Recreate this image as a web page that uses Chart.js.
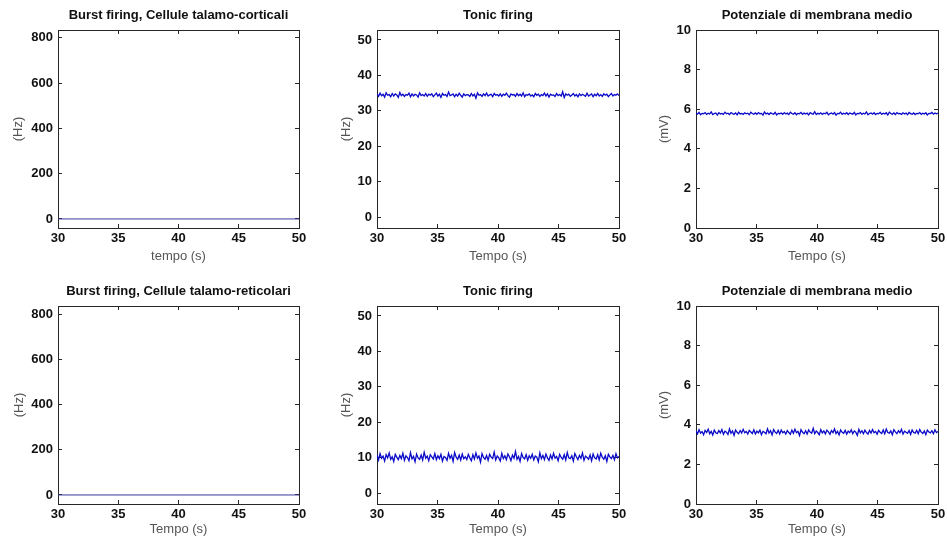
<!DOCTYPE html>
<html lang="it">
<head>
  <meta charset="UTF-8" />
  <title>Burst / Tonic firing</title>
  <script src="https://cdn.jsdelivr.net/npm/chart.js"></script>
  <style>
    html, body { margin: 0; padding: 0; background: #fff; width: 947px; height: 540px; overflow: hidden; }
    canvas { position: absolute; }
  </style>
</head>
<body>
<canvas id="p1"></canvas>
<canvas id="p2"></canvas>
<canvas id="p3"></canvas>
<canvas id="p4"></canvas>
<canvas id="p5"></canvas>
<canvas id="p6"></canvas>
<script>
  // time axis
  const tStart = 30;
  const tEnd = 50;
  const xTicks = [30, 35, 40, 45, 50];

  // tick labels for the y axes
  const burstTicks = [0, 200, 400, 600, 800];
  const tonicTicks = [0, 10, 20, 30, 40, 50];
  const membraneTicks = [0, 2, 4, 6, 8, 10];

  // burst firing: flat at zero for both populations
  const burstTime = [30, 50];
  const burstTC = [0, 0];
  const burstTR = [0, 0];

  // tonic firing, cellule talamo-corticali (Hz)
  const tonicTC = [
    34.8,34.1,35.0,34.3,34.7,33.9,35.1,34.4,34.6,34.0,34.9,34.2,34.8,34.5,33.8,35.2,34.3,34.7,34.1,34.6,
    34.4,35.0,34.0,34.8,34.2,34.7,34.5,33.9,35.1,34.3,34.6,34.2,34.9,34.1,34.7,34.4,34.8,34.0,34.5,35.0,
    34.2,34.7,33.8,34.9,34.4,34.6,34.1,35.3,34.3,34.5,34.8,34.0,34.7,34.2,35.0,34.4,33.9,34.8,34.3,34.6,
    34.5,34.1,34.9,34.2,34.7,33.6,35.1,34.4,34.6,34.1,34.8,34.3,35.0,34.2,34.5,34.7,34.0,34.9,34.4,34.6,
    34.2,34.8,34.1,34.7,34.4,35.0,34.3,33.9,34.8,34.5,34.6,34.1,34.9,34.3,34.7,34.2,35.1,34.0,34.6,34.4,
    34.8,34.2,34.5,34.0,34.9,34.4,34.7,34.1,34.6,34.3,35.0,34.2,34.8,33.9,34.7,34.4,34.5,34.1,34.9,34.3,
    34.6,34.2,35.4,33.8,34.8,34.4,34.7,34.1,34.5,34.9,34.2,34.6,34.0,34.8,34.3,34.7,34.4,34.1,35.0,34.2,
    34.5,34.8,34.0,34.7,34.3,34.9,34.2,34.6,34.1,34.8,34.4,34.7,34.0,34.5,34.9,34.2,34.6,34.4,34.8,34.3
  ];

  // potenziale di membrana medio, talamo-corticali (mV)
  const membraneTC = [
    5.81,5.75,5.84,5.72,5.79,5.77,5.83,5.74,5.80,5.76,5.86,5.73,5.78,5.81,5.70,5.82,5.76,5.79,5.74,5.85,
    5.77,5.80,5.73,5.83,5.78,5.75,5.81,5.71,5.84,5.76,5.79,5.74,5.82,5.77,5.80,5.72,5.85,5.78,5.75,5.81,
    5.74,5.83,5.77,5.79,5.70,5.86,5.76,5.80,5.73,5.82,5.78,5.75,5.84,5.71,5.79,5.77,5.81,5.74,5.83,5.76,
    5.80,5.73,5.85,5.78,5.75,5.82,5.72,5.79,5.77,5.84,5.74,5.81,5.76,5.80,5.71,5.83,5.78,5.75,5.87,5.73,
    5.79,5.76,5.82,5.74,5.80,5.77,5.84,5.72,5.78,5.81,5.75,5.83,5.70,5.79,5.77,5.85,5.74,5.80,5.76,5.82,
    5.73,5.81,5.78,5.75,5.84,5.71,5.79,5.77,5.83,5.74,5.80,5.76,5.86,5.72,5.78,5.81,5.75,5.82,5.73,5.79,
    5.77,5.84,5.74,5.80,5.76,5.82,5.71,5.85,5.78,5.75,5.81,5.73,5.83,5.77,5.79,5.74,5.82,5.76,5.80,5.72,
    5.84,5.78,5.75,5.81,5.73,5.79,5.77,5.83,5.74,5.80,5.76,5.82,5.71,5.79,5.78,5.84,5.75,5.81,5.77,5.80
  ];

  // tonic firing, cellule talamo-reticolari (Hz)
  const tonicTR = [
    10.8,9.4,11.2,9.9,10.5,9.1,10.9,10.0,11.4,9.6,10.3,9.0,11.0,10.2,9.5,10.7,9.8,11.3,9.3,10.6,
    10.1,9.2,11.5,9.7,10.4,8.9,11.1,10.0,9.6,10.8,9.4,11.6,9.9,10.5,9.2,10.9,10.3,9.7,11.2,9.5,
    10.6,9.8,11.0,9.1,10.4,10.1,9.3,11.3,9.9,10.7,9.0,11.5,10.2,9.6,10.8,9.4,11.1,9.8,10.3,9.5,
    11.0,10.0,9.2,10.9,9.7,11.4,9.9,10.5,8.8,11.2,10.1,9.6,10.7,9.3,11.0,10.2,9.8,11.6,9.4,10.5,
    10.0,9.1,11.3,9.8,10.6,9.5,11.1,10.3,9.2,10.8,9.9,11.8,9.6,10.4,9.0,11.2,10.1,9.7,10.9,9.3,
    10.6,9.9,11.0,9.4,10.5,10.2,8.9,11.4,9.8,10.7,9.5,11.1,10.0,9.3,10.8,9.7,11.3,9.9,10.4,9.2,
    11.0,10.1,9.6,10.9,9.4,11.5,10.0,9.8,10.6,9.1,11.2,10.3,9.5,10.7,9.9,11.4,9.3,10.5,10.1,9.6,
    10.8,9.2,11.1,10.0,9.7,10.9,9.4,11.3,10.2,9.6,10.6,9.0,11.0,10.3,9.8,10.7,9.5,11.2,10.0,10.4
  ];

  // potenziale di membrana medio, talamo-reticolari (mV)
  const membraneTR = [
    3.70,3.54,3.75,3.58,3.66,3.50,3.72,3.61,3.78,3.55,3.67,3.48,3.73,3.60,3.56,3.71,3.59,3.76,3.52,3.68,
    3.63,3.51,3.79,3.57,3.69,3.47,3.74,3.62,3.55,3.71,3.58,3.77,3.60,3.66,3.53,3.72,3.64,3.56,3.75,3.54,
    3.68,3.59,3.73,3.50,3.67,3.62,3.55,3.80,3.58,3.70,3.49,3.76,3.63,3.56,3.72,3.54,3.74,3.60,3.66,3.53,
    3.71,3.61,3.52,3.73,3.57,3.78,3.60,3.67,3.46,3.75,3.62,3.55,3.70,3.53,3.74,3.63,3.58,3.82,3.55,3.68,
    3.61,3.50,3.76,3.59,3.69,3.54,3.73,3.64,3.52,3.71,3.60,3.79,3.56,3.67,3.49,3.74,3.62,3.57,3.72,3.53,
    3.68,3.60,3.75,3.55,3.69,3.63,3.47,3.77,3.59,3.70,3.55,3.73,3.61,3.53,3.71,3.58,3.76,3.60,3.66,3.52,
    3.72,3.62,3.56,3.74,3.54,3.78,3.61,3.58,3.69,3.50,3.75,3.64,3.55,3.70,3.60,3.77,3.53,3.68,3.62,3.57,
    3.71,3.52,3.74,3.61,3.58,3.72,3.55,3.76,3.63,3.56,3.69,3.50,3.73,3.64,3.59,3.70,3.55,3.75,3.61,3.66
  ];

  // sample times for the noisy traces (uniform sampling between tStart and tEnd)
  const sampleTime = tonicTC.map((_, i) => tStart + i * (tEnd - tStart) / (tonicTC.length - 1));

  const FONT = "'Liberation Sans', Arial, sans-serif";
  const AXIS = "#262626";

  function pairs(xs, ys) {
    return ys.map((y, i) => ({ x: xs[i], y: y }));
  }

  function fixedTicks(list) {
    return (scale) => { scale.ticks = list.map(v => ({ value: v })); };
  }

  // one MATLAB-like subplot: boxed axes, inward ticks, no grid
  function makePanel(id, p) {
    const W_LEFT = 58, H_TOP = 30, PAD_R = 20;
    const el = document.getElementById(id);
    el.width = W_LEFT + p.plotW + PAD_R;
    el.height = H_TOP + p.plotH + p.hBottom;
    el.style.left = (p.plotLeft - W_LEFT) + "px";
    el.style.top = (p.plotTop - H_TOP) + "px";

    const tickGrid = { drawOnChartArea: false, tickLength: -4, color: AXIS, lineWidth: 1 };
    const border = { display: true, color: AXIS, width: 1 };

    new Chart(el, {
      type: "line",
      data: {
        datasets: [{
          data: pairs(p.time, p.values),
          borderColor: p.color,
          borderWidth: p.lineWidth,
          pointRadius: 0,
          fill: false,
          tension: 0
        }]
      },
      options: {
        responsive: false,
        animation: false,
        devicePixelRatio: 1,
        layout: { padding: { left: 0, top: 0, right: PAD_R, bottom: 0 } },
        plugins: { legend: { display: false }, tooltip: { enabled: false }, title: { display: false } },
        scales: {
          x: {
            type: "linear", position: "bottom", min: tStart, max: tEnd,
            afterBuildTicks: fixedTicks(xTicks),
            afterFit: (s) => { s.height = p.hBottom; },
            grid: tickGrid, border: border,
            ticks: { color: "#111", padding: 7, maxRotation: 0, font: { family: FONT, size: 13, weight: "bold" } },
            title: { display: true, text: p.xLabel, color: "#555", padding: { top: 0, bottom: p.xTitlePad },
                     font: { family: FONT, size: 13, lineHeight: 1.2 } }
          },
          x2: {
            type: "linear", position: "top", min: tStart, max: tEnd,
            afterBuildTicks: fixedTicks(xTicks),
            afterFit: (s) => { s.height = H_TOP; },
            grid: tickGrid, border: border,
            ticks: { display: false },
            title: { display: true, text: p.title, color: "#111", padding: { top: p.titlePad, bottom: 0 },
                     font: { family: FONT, size: 13, weight: "bold", lineHeight: 1.2 } }
          },
          y: {
            type: "linear", position: "left", min: p.yMin, max: p.yMax,
            afterBuildTicks: fixedTicks(p.yTicks),
            afterFit: (s) => { s.width = W_LEFT; },
            grid: tickGrid, border: border,
            ticks: { color: "#111", padding: 9, font: { family: FONT, size: 13, weight: "bold" } },
            title: { display: true, text: p.yLabel, color: "#555", padding: { top: p.yTitlePad, bottom: 0 },
                     font: { family: FONT, size: 13, lineHeight: 1.2 } }
          },
          y2: {
            type: "linear", position: "right", min: p.yMin, max: p.yMax,
            afterBuildTicks: fixedTicks(p.yTicks),
            afterFit: (s) => { s.width = 0; },
            grid: tickGrid, border: border,
            ticks: { display: false }
          }
        }
      }
    });
  }

  const BLUE = "#0a0ac8";
  const FLAT = "#3a3a9c";

  makePanel("p1", { plotLeft: 58, plotTop: 30, plotW: 241, plotH: 198, hBottom: 38, xTitlePad: 2, titlePad: 7.5, yTitlePad: 11,
    time: burstTime, values: burstTC, color: FLAT, lineWidth: 1, yMin: -40, yMax: 835, yTicks: burstTicks,
    title: "Burst firing, Cellule talamo-corticali", xLabel: "tempo (s)", yLabel: "(Hz)" });
  makePanel("p2", { plotLeft: 377, plotTop: 30, plotW: 242, plotH: 198, hBottom: 38, xTitlePad: 2, titlePad: 7.5, yTitlePad: 20,
    time: sampleTime, values: tonicTC, color: BLUE, lineWidth: 1.3, yMin: -3, yMax: 52.8, yTicks: tonicTicks,
    title: "Tonic firing", xLabel: "Tempo (s)", yLabel: "(Hz)" });
  makePanel("p3", { plotLeft: 696, plotTop: 30, plotW: 242, plotH: 198, hBottom: 38, xTitlePad: 2, titlePad: 7.5, yTitlePad: 19,
    time: sampleTime, values: membraneTC, color: BLUE, lineWidth: 1.3, yMin: 0, yMax: 10, yTicks: membraneTicks,
    title: "Potenziale di membrana medio", xLabel: "Tempo (s)", yLabel: "(mV)" });

  makePanel("p4", { plotLeft: 58, plotTop: 306, plotW: 241, plotH: 198, hBottom: 36, xTitlePad: 3, titlePad: 8, yTitlePad: 12,
    time: burstTime, values: burstTR, color: FLAT, lineWidth: 1, yMin: -40, yMax: 836, yTicks: burstTicks,
    title: "Burst firing, Cellule talamo-reticolari", xLabel: "Tempo (s)", yLabel: "(Hz)" });
  makePanel("p5", { plotLeft: 377, plotTop: 306, plotW: 242, plotH: 198, hBottom: 36, xTitlePad: 3, titlePad: 8, yTitlePad: 20,
    time: sampleTime, values: tonicTR, color: BLUE, lineWidth: 1.3, yMin: -3, yMax: 52.8, yTicks: tonicTicks,
    title: "Tonic firing", xLabel: "Tempo (s)", yLabel: "(Hz)" });
  makePanel("p6", { plotLeft: 696, plotTop: 306, plotW: 242, plotH: 198, hBottom: 36, xTitlePad: 3, titlePad: 8, yTitlePad: 19,
    time: sampleTime, values: membraneTR, color: BLUE, lineWidth: 1.3, yMin: 0, yMax: 10, yTicks: membraneTicks,
    title: "Potenziale di membrana medio", xLabel: "Tempo (s)", yLabel: "(mV)" });
</script>
</body>
</html>
